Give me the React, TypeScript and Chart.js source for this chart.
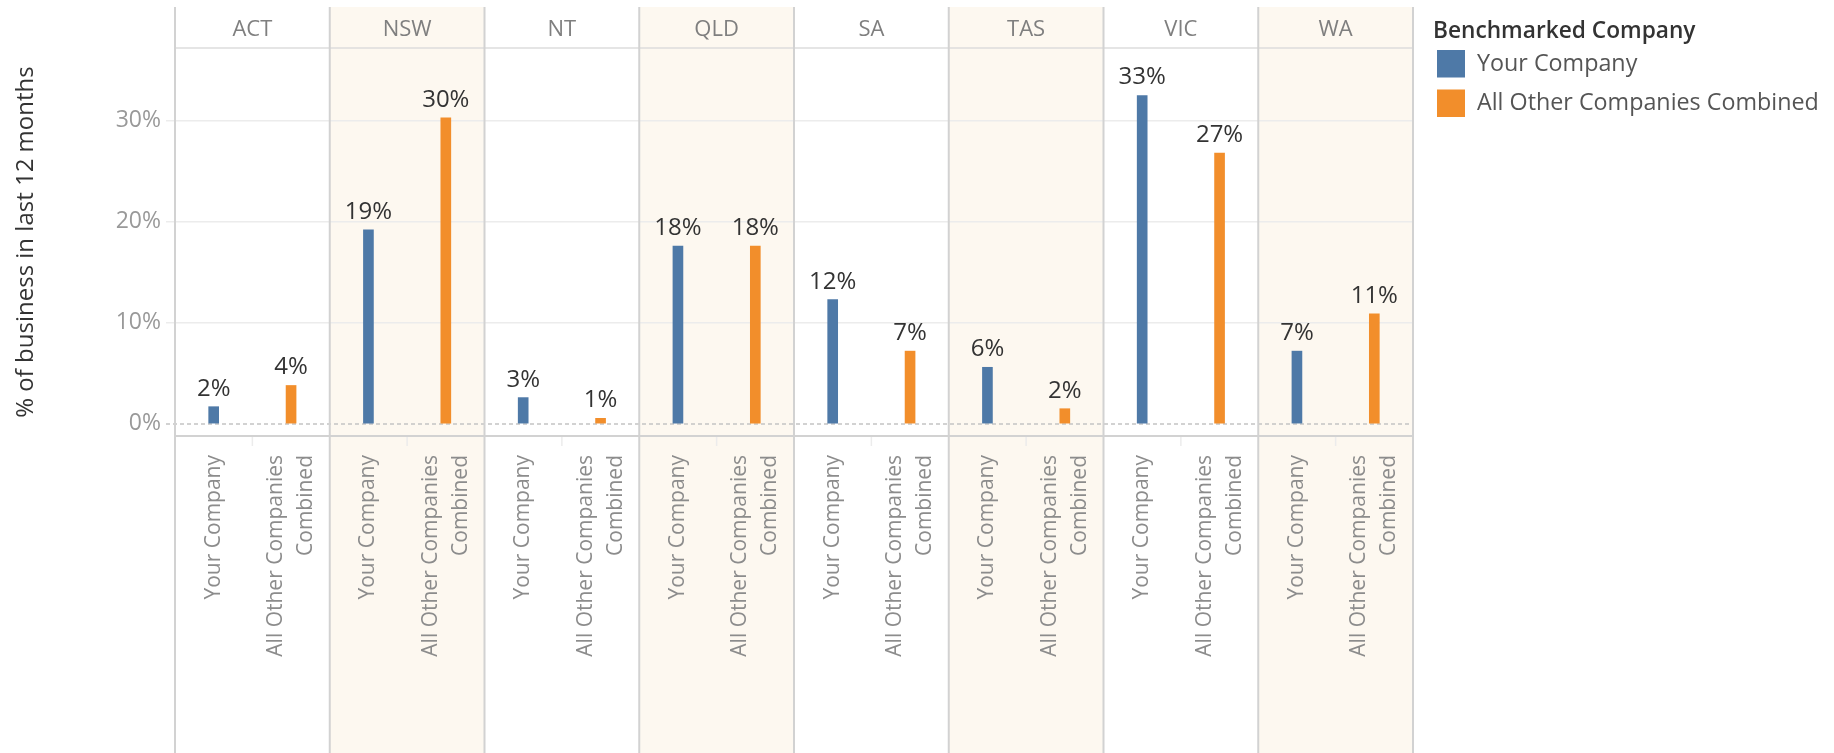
import { useEffect, useRef } from "react";
import { Chart, registerables } from "chart.js";

Chart.register(...registerables);

// ---- data ----
const states = ["ACT", "NSW", "NT", "QLD", "SA", "TAS", "VIC", "WA"];
const seriesNames = ["Your Company", "All Other Companies Combined"];
const yourCompany = [1.7, 19.2, 2.6, 17.6, 12.3, 5.6, 32.5, 7.2];
const otherCompanies = [3.8, 30.3, 0.55, 17.6, 7.2, 1.5, 26.8, 10.9];
const yTicks = [0, 10, 20, 30];
const subLabels: (string | string[])[] = ["Your Company", ["All Other Companies", "Combined"]];
const legendTitle = "Benchmarked Company";
const yTitle = "% of business in last 12 months";
const seriesColors = ["#4e79a7", "#f28e2b"];

const FONT = "'Open Sans', 'Noto Sans', sans-serif";
const Y_MIN = -1.2;
const Y_MAX = 37.2;
const categories = states.flatMap((s) => seriesNames.map((n) => `${s}|${n}`));

const panePlugin = {
  id: "panes",
  beforeDraw(chart: any) {
    const { ctx, scales } = chart;
    const x = scales.x;
    ctx.save();
    ctx.fillStyle = "#fdf8f0";
    states.forEach((_s, i) => {
      if (i % 2 === 1) {
        const l = x.getPixelForValue(2 * i - 0.5);
        const r = x.getPixelForValue(2 * i + 1.5);
        ctx.fillRect(l, 7, r - l, chart.height - 7);
      }
    });
    ctx.restore();
  },
  beforeDatasetsDraw(chart: any) {
    const { ctx, scales, chartArea } = chart;
    const y0 = scales.y.getPixelForValue(0);
    ctx.save();
    ctx.strokeStyle = "#c4c4c4";
    ctx.lineWidth = 1.5;
    ctx.setLineDash([4, 3]);
    ctx.beginPath();
    ctx.moveTo(chartArea.left - 9, y0);
    ctx.lineTo(chartArea.right, y0);
    ctx.stroke();
    ctx.restore();
  },
  afterDatasetsDraw(chart: any) {
    const { ctx } = chart;
    ctx.save();
    ctx.font = `24px ${FONT}`;
    ctx.fillStyle = "#333333";
    ctx.textAlign = "center";
    ctx.textBaseline = "alphabetic";
    chart.data.datasets.forEach((ds: any, di: number) => {
      const meta = chart.getDatasetMeta(di);
      meta.data.forEach((el: any, i: number) => {
        const v = ds.data[i].y;
        ctx.fillText(`${Math.round(v)}%`, el.x, el.y - 11);
      });
    });
    ctx.restore();
  },
  afterDraw(chart: any) {
    const { ctx, scales, chartArea } = chart;
    const x = scales.x;
    ctx.save();
    // header bottom line
    ctx.strokeStyle = "#dcdcdc";
    ctx.lineWidth = 1.5;
    ctx.beginPath();
    ctx.moveTo(chartArea.left, chartArea.top);
    ctx.lineTo(chartArea.right, chartArea.top);
    ctx.stroke();
    // x axis line
    ctx.strokeStyle = "#d2d2d2";
    ctx.lineWidth = 2;
    ctx.beginPath();
    ctx.moveTo(chartArea.left, chartArea.bottom);
    ctx.lineTo(chartArea.right, chartArea.bottom);
    ctx.stroke();
    // sub-column separators in label area
    ctx.strokeStyle = "#ececec";
    ctx.lineWidth = 1.5;
    states.forEach((_s, i) => {
      const px = x.getPixelForValue(2 * i + 0.5);
      ctx.beginPath();
      ctx.moveTo(px, chartArea.bottom + 1);
      ctx.lineTo(px, chartArea.bottom + 10);
      ctx.stroke();
    });
    // pane dividers
    ctx.strokeStyle = "#d2d2d2";
    ctx.lineWidth = 2;
    for (let i = 0; i <= states.length; i++) {
      const px = x.getPixelForValue(2 * i - 0.5);
      ctx.beginPath();
      ctx.moveTo(px, 7);
      ctx.lineTo(px, chart.height);
      ctx.stroke();
    }
    // header labels
    ctx.font = `22px ${FONT}`;
    ctx.fillStyle = "#7f7f7f";
    ctx.textAlign = "center";
    ctx.textBaseline = "middle";
    states.forEach((s, i) => {
      ctx.fillText(s, x.getPixelForValue(2 * i + 0.5), (7 + chartArea.top) / 2 + 2);
    });
    // legend
    const lx = chartArea.right + 20;
    ctx.textAlign = "left";
    ctx.textBaseline = "alphabetic";
    ctx.fillStyle = "#333333";
    ctx.font = `600 22.7px ${FONT}`;
    ctx.fillText(legendTitle, lx, 38);
    ctx.font = `23.3px ${FONT}`;
    chart.data.datasets.forEach((ds: any, i: number) => {
      const top = 50 + i * 39.5;
      ctx.fillStyle = ds.backgroundColor;
      ctx.fillRect(lx + 4, top, 28, 27.5);
      ctx.fillStyle = "#555555";
      ctx.textBaseline = "middle";
      ctx.fillText(ds.label, lx + 44, top + 14);
    });
    ctx.restore();
  },
};

export default function App() {
  const ref = useRef<HTMLCanvasElement | null>(null);
  useEffect(() => {
    if (!ref.current) return;
    const tickFont = { family: FONT, size: 21, lineHeight: 30 / 21 };
    const chart = new Chart(ref.current, {
      type: "bar",
      data: {
        labels: categories,
        datasets: [
          {
            label: seriesNames[0],
            data: states.map((s, i) => ({ x: `${s}|${seriesNames[0]}`, y: yourCompany[i] })),
            backgroundColor: seriesColors[0],
            grouped: false,
            barThickness: 10,
          } as any,
          {
            label: seriesNames[1],
            data: states.map((s, i) => ({ x: `${s}|${seriesNames[1]}`, y: otherCompanies[i] })),
            backgroundColor: seriesColors[1],
            grouped: false,
            barThickness: 10,
          } as any,
        ],
      },
      options: {
        animation: false,
        responsive: false,
        maintainAspectRatio: false,
        layout: { padding: { top: 48, right: 421, left: 0, bottom: 0 } },
        plugins: { legend: { display: false }, tooltip: { enabled: false } },
        scales: {
          x: {
            type: "category",
            position: "bottom",
            offset: true,
            grid: { display: false },
            border: { display: false },
            ticks: {
              autoSkip: false,
              minRotation: 90,
              maxRotation: 90,
              padding: 11,
              color: "#8c8c8c",
              font: tickFont,
              callback: (_v: any, i: number) => (i % 2 === 0 ? subLabels[0] : ""),
            },
            afterFit: (s: any) => {
              s.height = 317;
            },
          },
          x2: {
            type: "category",
            axis: "x",
            position: { y: Y_MIN },
            offset: true,
            grid: { display: false },
            border: { display: false },
            ticks: {
              autoSkip: false,
              minRotation: 90,
              maxRotation: 90,
              padding: 11,
              labelOffset: -15,
              color: "#8c8c8c",
              font: tickFont,
              callback: (_v: any, i: number) => (i % 2 === 1 ? subLabels[1] : ""),
            },
          },
          y: {
            min: Y_MIN,
            max: Y_MAX,
            afterBuildTicks: (s: any) => {
              s.ticks = yTicks.map((v) => ({ value: v }));
            },
            afterFit: (s: any) => {
              s.width = 175;
            },
            border: { display: false },
            grid: {
              color: (c: any) => (c.tick && c.tick.value === 0 ? "rgba(0,0,0,0)" : "#ececec"),
              lineWidth: 1.5,
              tickLength: 9,
            },
            ticks: {
              padding: 5,
              color: "#999999",
              font: { family: FONT, size: 23 },
              callback: (v: any) => `${v}%`,
            },
            title: {
              display: true,
              text: yTitle,
              color: "#333333",
              font: { family: FONT, size: 24 },
              padding: { top: 12, bottom: 0 },
            },
          },
        } as any,
      },
      plugins: [panePlugin],
    });
    return () => chart.destroy();
  }, []);
  return (
    <div style={{ position: "absolute", left: 0, top: 0, width: 1834, height: 753, background: "#fff" }}>
      <canvas ref={ref} width={1834} height={753} style={{ display: "block" }} />
    </div>
  );
}
